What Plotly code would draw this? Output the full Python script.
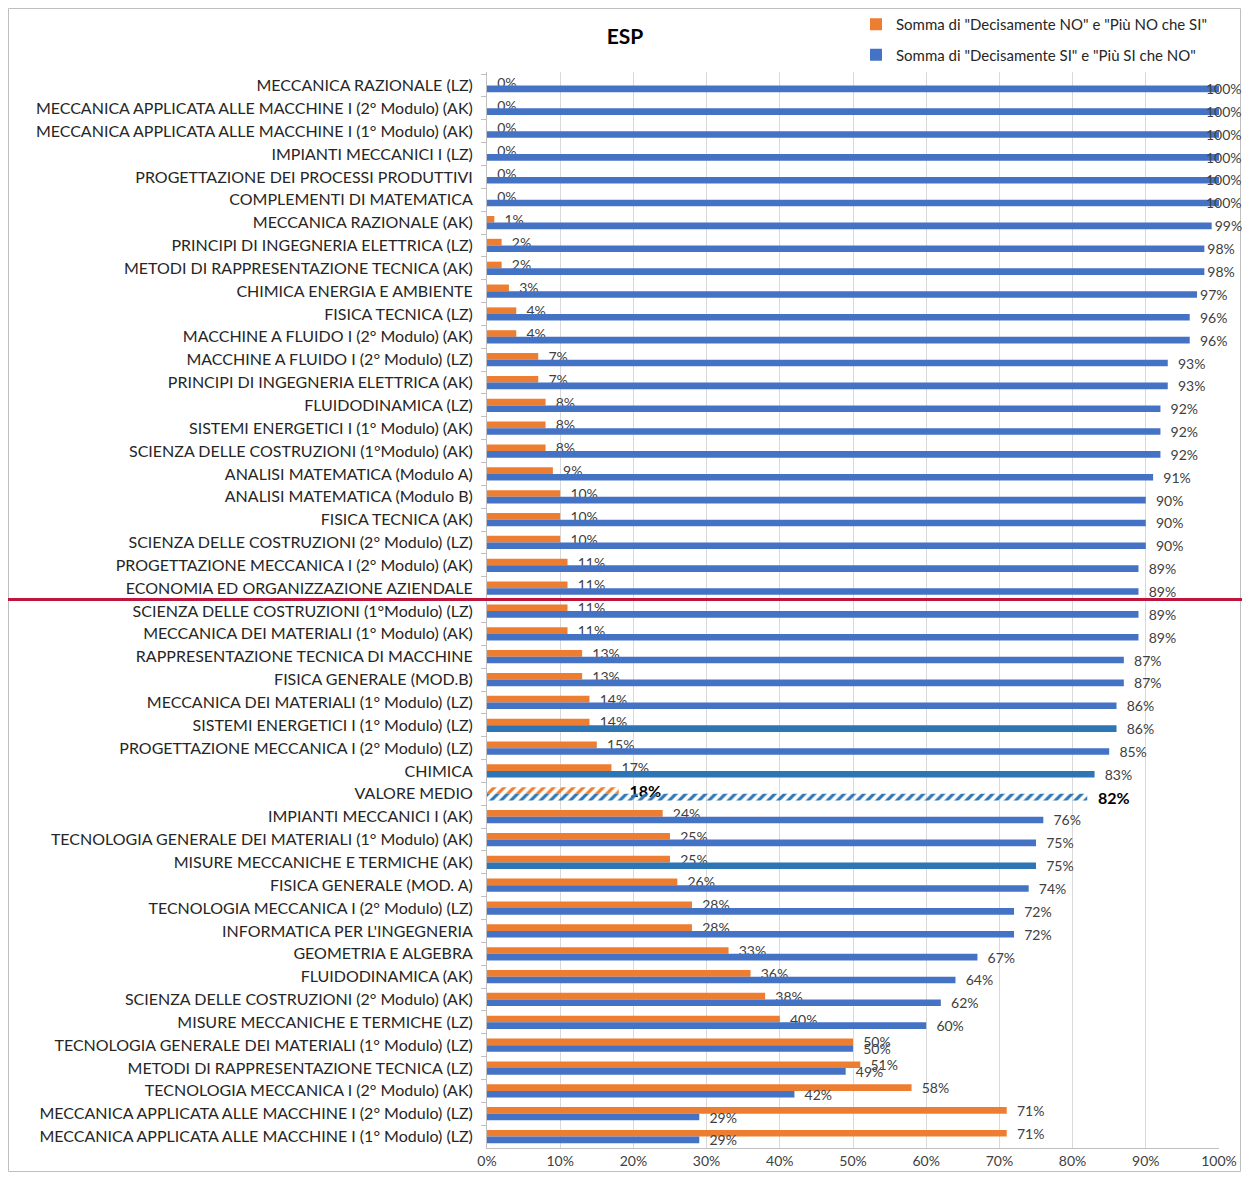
import plotly.graph_objects as go

categories = [
    "MECCANICA RAZIONALE (LZ)",
    "MECCANICA APPLICATA ALLE MACCHINE I (2° Modulo) (AK)",
    "MECCANICA APPLICATA ALLE MACCHINE I (1° Modulo) (AK)",
    "IMPIANTI MECCANICI I (LZ)",
    "PROGETTAZIONE DEI PROCESSI PRODUTTIVI",
    "COMPLEMENTI DI MATEMATICA",
    "MECCANICA RAZIONALE (AK)",
    "PRINCIPI DI INGEGNERIA ELETTRICA (LZ)",
    "METODI DI RAPPRESENTAZIONE TECNICA (AK)",
    "CHIMICA ENERGIA E AMBIENTE",
    "FISICA TECNICA (LZ)",
    "MACCHINE A FLUIDO I (2° Modulo) (AK)",
    "MACCHINE A FLUIDO I (2° Modulo) (LZ)",
    "PRINCIPI DI INGEGNERIA ELETTRICA (AK)",
    "FLUIDODINAMICA (LZ)",
    "SISTEMI ENERGETICI I (1° Modulo) (AK)",
    "SCIENZA DELLE COSTRUZIONI (1°Modulo) (AK)",
    "ANALISI MATEMATICA (Modulo A)",
    "ANALISI MATEMATICA (Modulo B)",
    "FISICA TECNICA (AK)",
    "SCIENZA DELLE COSTRUZIONI (2° Modulo) (LZ)",
    "PROGETTAZIONE MECCANICA I (2° Modulo) (AK)",
    "ECONOMIA ED ORGANIZZAZIONE AZIENDALE",
    "SCIENZA DELLE COSTRUZIONI (1°Modulo) (LZ)",
    "MECCANICA DEI MATERIALI (1° Modulo) (AK)",
    "RAPPRESENTAZIONE TECNICA DI MACCHINE",
    "FISICA GENERALE (MOD.B)",
    "MECCANICA DEI MATERIALI (1° Modulo) (LZ)",
    "SISTEMI ENERGETICI I (1° Modulo) (LZ)",
    "PROGETTAZIONE MECCANICA I (2° Modulo) (LZ)",
    "CHIMICA",
    "VALORE MEDIO",
    "IMPIANTI MECCANICI I (AK)",
    "TECNOLOGIA GENERALE DEI MATERIALI (1° Modulo) (AK)",
    "MISURE MECCANICHE E TERMICHE (AK)",
    "FISICA GENERALE (MOD. A)",
    "TECNOLOGIA MECCANICA I (2° Modulo) (LZ)",
    "INFORMATICA PER L'INGEGNERIA",
    "GEOMETRIA E ALGEBRA",
    "FLUIDODINAMICA (AK)",
    "SCIENZA DELLE COSTRUZIONI (2° Modulo) (AK)",
    "MISURE MECCANICHE E TERMICHE (LZ)",
    "TECNOLOGIA GENERALE DEI MATERIALI (1° Modulo) (LZ)",
    "METODI DI RAPPRESENTAZIONE TECNICA (LZ)",
    "TECNOLOGIA MECCANICA I (2° Modulo) (AK)",
    "MECCANICA APPLICATA ALLE MACCHINE I (2° Modulo) (LZ)",
    "MECCANICA APPLICATA ALLE MACCHINE I (1° Modulo) (LZ)",
]

no_values = [0, 0, 0, 0, 0, 0, 1, 2, 2, 3, 4, 4, 7, 7, 8, 8, 8, 9, 10, 10, 10, 11, 11,
             11, 11, 13, 13, 14, 14, 15, 17, 18, 24, 25, 25, 26, 28, 28, 33, 36, 38, 40,
             50, 51, 58, 71, 71]
si_values = [100, 100, 100, 100, 100, 100, 99, 98, 98, 97, 96, 96, 93, 93, 92, 92, 92, 91,
             90, 90, 90, 89, 89, 89, 89, 87, 87, 86, 86, 85, 83, 82, 76, 75, 75, 74, 72,
             72, 67, 64, 62, 60, 50, 49, 42, 29, 29]

x_ticks = [0, 10, 20, 30, 40, 50, 60, 70, 80, 90, 100]
x_tick_labels = ["0%", "10%", "20%", "30%", "40%", "50%", "60%", "70%", "80%", "90%", "100%"]

name_no = 'Somma di "Decisamente NO" e "Più NO che SI"'
name_si = 'Somma di "Decisamente SI" e "Più SI che NO"'
average_label = "VALORE MEDIO"
darker_blue_rows = ["SISTEMI ENERGETICI I (1° Modulo) (LZ)", "CHIMICA",
                    "MISURE MECCANICHE E TERMICHE (AK)", "VALORE MEDIO"]
separator_after = "ECONOMIA ED ORGANIZZAZIONE AZIENDALE"

ORANGE = "#ED7D31"
BLUE = "#4472C4"
BLUE2 = "#2E75B6"
FONT = "Lato"
NB = "\u00a0\u00a0"
LABEL_SIZE = 14

# figure placement (page has an 8px body margin)
W, H = 1234, 1164
ML, MT = 479, 64
PW, PH = 732, 1076


def labels(vals):
    out = []
    for c, v in zip(categories, vals):
        if c == average_label:
            out.append(f"<b>{NB}{v}%</b>")
        elif v >= 100:
            out.append("")
        elif v >= 97:
            out.append(f"{v}%")
        else:
            out.append(f"{NB}{v}%")
    return out


def text_sizes():
    return [16 if c == average_label else LABEL_SIZE for c in categories]


def text_colors():
    return ["#000000" if c == average_label else "#404040" for c in categories]


def colors(base):
    res = []
    for c in categories:
        if base == BLUE and c in darker_blue_rows:
            res.append(BLUE2)
        else:
            res.append(base)
    return res


fig = go.Figure()
for vals, nm, base, grp in [(no_values, name_no, ORANGE, "a"), (si_values, name_si, BLUE, "b")]:
    fig.add_trace(go.Bar(
        y=categories, x=vals, name=nm, orientation="h",
        legendgroup=grp,
        marker=dict(color=colors(base), line=dict(width=0),
                    pattern=dict(shape=["/" if c == average_label else "" for c in categories],
                                 bgcolor="white", fillmode="replace", size=7, solidity=0.45)),
        text=labels(vals), textposition="outside", constraintext="none",
        textfont=dict(family=FONT, size=text_sizes(), color=text_colors()),
        cliponaxis=False,
    ))

annotations = []
for c, v in zip(categories, si_values):
    if v >= 100:
        annotations.append(dict(x=v, y=c, xref="x", yref="y", text=f"{v}%",
                                showarrow=False, xanchor="center", yanchor="middle",
                                xshift=5, yshift=-3,
                                font=dict(family=FONT, size=LABEL_SIZE, color="#404040")))

sep_idx = categories.index(separator_after) + 0.5
plot_bottom = MT + PH

fig.update_layout(
    width=W, height=H,
    margin=dict(l=ML, r=W - ML - PW, t=MT, b=H - MT - PH, pad=0, autoexpand=False),
    paper_bgcolor="white", plot_bgcolor="white",
    barmode="group", bargap=0.42, bargroupgap=0,
    font=dict(family=FONT, color="#262626"),
    title=dict(text="<b>ESP</b>", x=0.5, xref="container", xanchor="center",
               y=1 - 29 / H, yref="container", yanchor="middle",
               font=dict(family=FONT, size=21, color="#000000")),
    legend=dict(x=848 / W, y=1.0, xref="container", yref="container",
                xanchor="left", yanchor="top",
                font=dict(family=FONT, size=15, color="#262626"),
                tracegroupgap=8, bgcolor="rgba(0,0,0,0)"),
    xaxis=dict(range=[0, 100], tickvals=x_ticks, ticktext=x_tick_labels,
               showgrid=True, gridcolor="#D9D9D9", gridwidth=1,
               showline=True, linecolor="#BFBFBF", zeroline=False, automargin=False,
               ticks="", tickfont=dict(family=FONT, size=14, color="#404040"),
               fixedrange=True),
    yaxis=dict(type="category", categoryorder="array", categoryarray=categories,
               autorange="reversed", showline=True, linecolor="#BFBFBF", automargin=False,
               ticks="outside", tickson="boundaries", ticklen=5, tickcolor="#BFBFBF",
               ticklabelstandoff=10,
               tickfont=dict(family=FONT, size=16, color="#262626"),
               showgrid=False, fixedrange=True),
    annotations=annotations,
    shapes=[
        dict(type="line", xref="paper", yref="y",
             x0=(0 - ML) / PW, x1=(W - ML) / PW, y0=sep_idx, y1=sep_idx,
             line=dict(color="#C0143C", width=3), layer="above"),
        dict(type="rect", xref="paper", yref="paper",
             x0=(0.5 - ML) / PW, x1=(W - 1.5 - ML) / PW,
             y0=(plot_bottom - (H - 0.5)) / PH, y1=(plot_bottom - 0.5) / PH,
             line=dict(color="#BFBFBF", width=1), fillcolor="rgba(0,0,0,0)", layer="below"),
    ],
)

fig.write_html("out.html")
